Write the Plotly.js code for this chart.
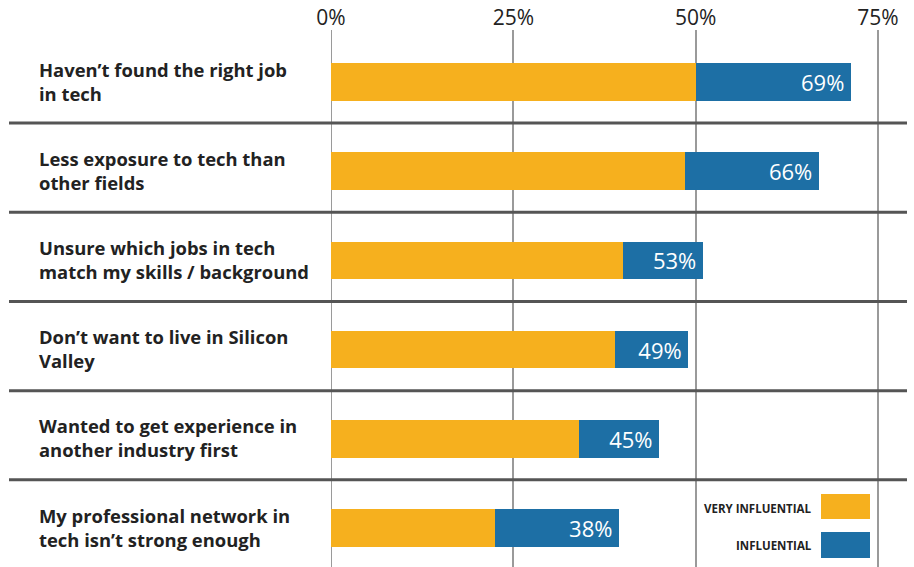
<!DOCTYPE html>
<html>
<head>
<meta charset="utf-8">
<script src="https://cdn.plot.ly/plotly-3.0.1.min.js"></script>
<style>
html,body{margin:0;padding:0;background:#fff;}
#chart{width:914px;height:567px;}
</style>
</head>
<body>
<div id="chart"></div>
<script>
var categories = [
  "Haven\u2019t found the right job<br>in tech",
  "Less exposure to tech than<br>other fields",
  "Unsure which jobs in tech<br>match my skills / background",
  "Don\u2019t want to live in Silicon<br>Valley",
  "Wanted to get experience in<br>another industry first",
  "My professional network in<br>tech isn\u2019t strong enough"
];
var veryInfluential = [50, 48.5, 40, 39, 34, 22.5];
var influential = [21.3, 18.4, 11, 10, 11, 17];
var totalLabels = ["69%", "66%", "53%", "49%", "45%", "38%"];
var tickValues = [0, 25, 50, 75];
var tickLabels = ["0%", "25%", "50%", "75%"];
var seriesNames = ["VERY INFLUENTIAL", "INFLUENTIAL"];

var ORANGE = "#F6B01E";
var BLUE = "#1D6FA5";
var idx = categories.map(function(_, i){ return i; });

var traces = [
  {type:"bar", orientation:"h", y: idx, x: veryInfluential, name: seriesNames[0],
   marker:{color: ORANGE}, width:0.42, hoverinfo:"none"},
  {type:"bar", orientation:"h", y: idx, x: influential, name: seriesNames[1],
   marker:{color: BLUE}, width:0.42, hoverinfo:"none",
   text: totalLabels.map(function(t){ return t + "\u2009"; }), textposition:"inside", insidetextanchor:"end",
   constraintext:"none",
   textfont:{family:"Open Sans", size:22, color:"#ffffff"}}
];

var L = 331, R = 10, W = 914 - L - R;
var T = 30, B = 0, H = 567 - T - B;
function px2paperX(px){ return (px - L) / W; }
function px2paperY(py){ return (567 - B - py) / H; }

var shapes = [];
// 0% gridline (Plotly drops the grid line at the range edge)
shapes.push({type:"line", xref:"x", yref:"paper", x0:tickValues[0], x1:tickValues[0], y0:0, y1:1,
  line:{color:"#9a9a9a", width:2}, layer:"below"});
for (var i = 0; i < categories.length - 1; i++) {
  shapes.push({type:"line", xref:"paper", yref:"y", x0: px2paperX(9), x1: px2paperX(907),
    y0: i + 0.46, y1: i + 0.46, line:{color:"#555555", width:3}, layer:"above"});
}
// legend swatches
shapes.push({type:"rect", xref:"paper", yref:"paper", x0:px2paperX(821), x1:px2paperX(870),
  y0:px2paperY(519), y1:px2paperY(494), fillcolor:ORANGE, line:{width:0}});
shapes.push({type:"rect", xref:"paper", yref:"paper", x0:px2paperX(821), x1:px2paperX(870),
  y0:px2paperY(558), y1:px2paperY(532), fillcolor:BLUE, line:{width:0}});

var annotations = categories.map(function(c, i){
  return {xref:"paper", yref:"y", x: px2paperX(37), y: i, xanchor:"left", yanchor:"middle",
    align:"left", text: c, showarrow:false, yshift:1,
    font:{family:"Open Sans", size:18.4, color:"#222222", weight:700}};
});
annotations.push({xref:"paper", yref:"paper", x:px2paperX(814), y:px2paperY(508), xanchor:"right", yanchor:"middle",
  text: seriesNames[0], showarrow:false, font:{family:"Open Sans", size:11.5, color:"#222222", weight:700}});
annotations.push({xref:"paper", yref:"paper", x:px2paperX(814), y:px2paperY(545), xanchor:"right", yanchor:"middle",
  text: seriesNames[1], showarrow:false, font:{family:"Open Sans", size:11.5, color:"#222222", weight:700}});

var layout = {
  width:914, height:567,
  margin:{l:L, r:R, t:T, b:B, pad:0},
  paper_bgcolor:"#ffffff", plot_bgcolor:"#ffffff",
  barmode:"stack",
  showlegend:false,
  xaxis:{side:"top", range:[0, W/7.293], tickvals:tickValues, ticktext:tickLabels,
    showgrid:true, gridcolor:"#9a9a9a", gridwidth:2, zeroline:false, showline:false,
    ticks:"", ticklen:0, tickfont:{family:"Open Sans", size:21, color:"#222222"}, fixedrange:true},
  yaxis:{range:[5.437, -0.583], showticklabels:false, showgrid:false, zeroline:false,
    showline:false, ticks:"", fixedrange:true},
  shapes: shapes,
  annotations: annotations,
  font:{family:"Open Sans"}
};

Plotly.newPlot("chart", traces, layout, {displayModeBar:false, staticPlot:true});
</script>
</body>
</html>
